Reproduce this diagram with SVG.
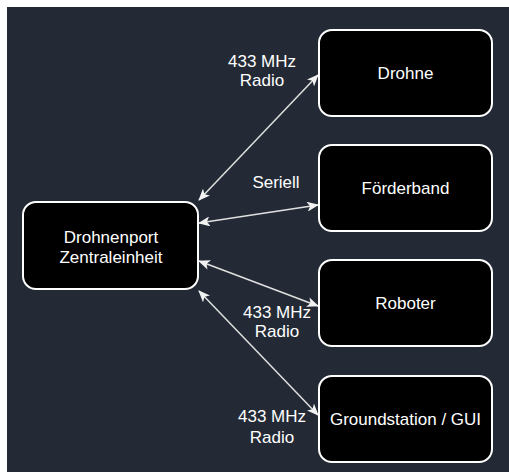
<svg xmlns="http://www.w3.org/2000/svg" width="509" height="472" viewBox="0 0 509 472">
<style>
.node rect{fill:#000;stroke:#fff;stroke-width:2}
text{font-family:"Liberation Sans",Arial,sans-serif;font-size:17px;fill:#fff;text-anchor:middle}
.edge{stroke:#e0e0e0;stroke-width:1.5;fill:none;marker-start:url(#arr);marker-end:url(#arr)}
</style>
<defs>
<marker id="arr" viewBox="0 0 12 10" refX="11" refY="5" markerWidth="12" markerHeight="10" markerUnits="userSpaceOnUse" orient="auto-start-reverse">
<path d="M0,0 L12,5 L0,10 L3,5 Z" fill="#f2f2f2"/>
</marker>
</defs>
<rect x="0" y="0" width="509" height="472" fill="#fff"/>
<rect x="7" y="7" width="502" height="465" fill="#232a35"/>
<g id="connectors">
<line class="edge" x1="199" y1="200" x2="318" y2="75"/>
<line class="edge" x1="199" y1="223" x2="318" y2="205"/>
<line class="edge" x1="199" y1="261" x2="318" y2="306"/>
<line class="edge" x1="199" y1="291" x2="318" y2="415"/>
<text x="262" y="67">433 MHz</text>
<text x="262" y="86">Radio</text>
<text x="276" y="188">Seriell</text>
<text x="277" y="318">433 MHz</text>
<text x="277" y="337">Radio</text>
<text x="272" y="422">433 MHz</text>
<text x="272" y="443">Radio</text>
</g>
<g id="drohnenport" class="node">
<rect x="23" y="202" width="175" height="87" rx="13"/>
<text x="111" y="243">Drohnenport</text>
<text x="111" y="263">Zentraleinheit</text>
</g>
<g id="drohne" class="node">
<rect x="319" y="30" width="173" height="86" rx="13"/>
<text x="405.5" y="79">Drohne</text>
</g>
<g id="foerderband" class="node">
<rect x="319" y="145" width="173" height="86" rx="13"/>
<text x="405.5" y="194">Förderband</text>
</g>
<g id="roboter" class="node">
<rect x="319" y="260" width="173" height="86" rx="13"/>
<text x="405.5" y="309">Roboter</text>
</g>
<g id="groundstation" class="node">
<rect x="319" y="376" width="173" height="86" rx="13"/>
<text x="405.5" y="425">Groundstation / GUI</text>
</g>
</svg>
